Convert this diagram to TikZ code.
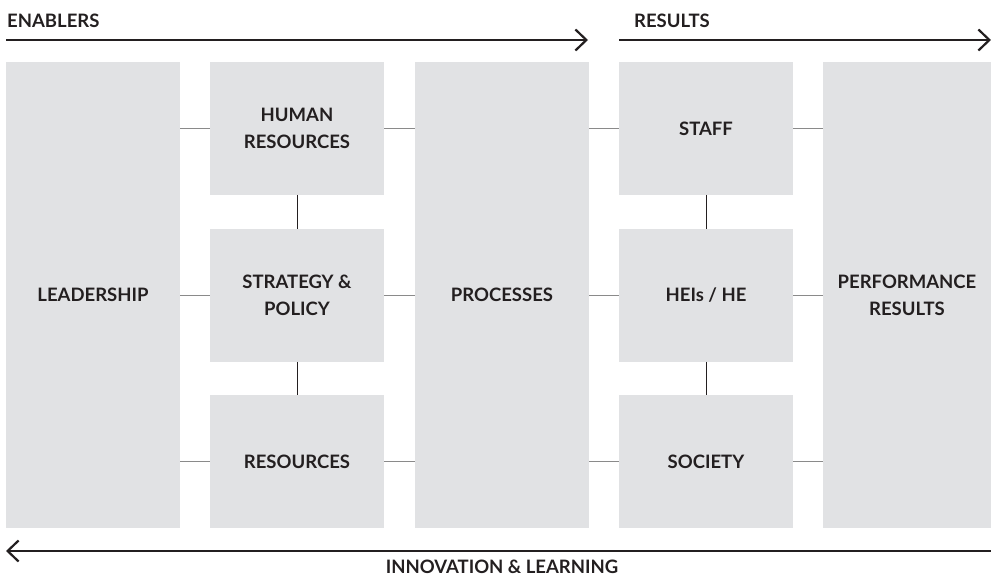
\documentclass[tikz,border=0pt]{standalone}
\usepackage{fontspec}
\setmainfont{Lato}
\usetikzlibrary{arrows.meta}
\definecolor{boxgray}{HTML}{E1E2E4}
\definecolor{linkgray}{HTML}{8A8A8A}
\definecolor{ink}{HTML}{231F20}
\begin{document}
\begin{tikzpicture}
% 1pt = 1px of the 991x577 sheet, y runs downwards
[x=1pt,y=-1pt,
 box/.style={fill=boxgray,inner sep=0pt,outer sep=0pt,anchor=north west,
   align=center,text=ink,font=\fontsize{18.5}{27}\selectfont\bfseries},
 tallbox/.style={box,minimum width=174pt,minimum height=466pt},
 smallbox/.style={box,minimum width=174pt,minimum height=133pt},
 link/.style={draw=linkgray,line width=1.5pt},
 stem/.style={draw=ink,line width=1pt},
 flow/.style={draw=ink,line width=2.2pt,-{Straight Barb[length=11pt,width=21pt]}},
 head/.style={text=ink,inner sep=0pt,anchor=base west,font=\fontsize{18.5}{22}\selectfont\bfseries}]
\useasboundingbox (0,0) rectangle (991,577);
% enablers
\node[tallbox] (lead) at (6,62) {LEADERSHIP};
\node[smallbox] (hr) at (210,62) {HUMAN\\RESOURCES};
\node[smallbox] (sp) at (210,229) {STRATEGY \&\\POLICY};
\node[smallbox] (res) at (210,395) {RESOURCES};
\node[tallbox] (proc) at (415,62) {PROCESSES};
% results
\node[smallbox] (staff) at (619,62) {STAFF};
\node[smallbox] (hei) at (619,229) {HEIs / HE};
\node[smallbox] (soc) at (619,395) {SOCIETY};
% 168 = 991-823, box runs to the sheet edge
\node[tallbox,minimum width=168pt] (perf) at (823,62) {PERFORMANCE\\RESULTS};
% row links
\foreach \lft/\rgt in {hr/staff,sp/hei,res/soc}{
  \draw[link] (lead.east |- \lft.west) -- (\lft.west);
  \draw[link] (\lft.east) -- (proc.west |- \lft.east);
  \draw[link] (proc.east |- \rgt.west) -- (\rgt.west);
  \draw[link] (\rgt.east) -- (perf.west |- \rgt.east);
}
% column stems
\draw[stem] (hr) -- (sp) (sp) -- (res);
\draw[stem] (staff) -- (hei) (hei) -- (soc);
% arrows and headings
\node[head] (enab) at (7,28) {ENABLERS};
\node[head] (reslt) at (634,28) {RESULTS};
\coordinate (enabA) at (6,40);
\coordinate (enabB) at (588,40);
\coordinate (resA) at (619,40);
\coordinate (resB) at (991,40);
\coordinate (innA) at (991,551);
\coordinate (innB) at (6,551);
\draw[flow] (enabA) -- (enabB);
\draw[flow] (resA) -- (resB);
\draw[flow] (innA) -- (innB);
\node[head,anchor=base] (inno) at (502,573) {INNOVATION \& LEARNING};
\end{tikzpicture}
\end{document}
